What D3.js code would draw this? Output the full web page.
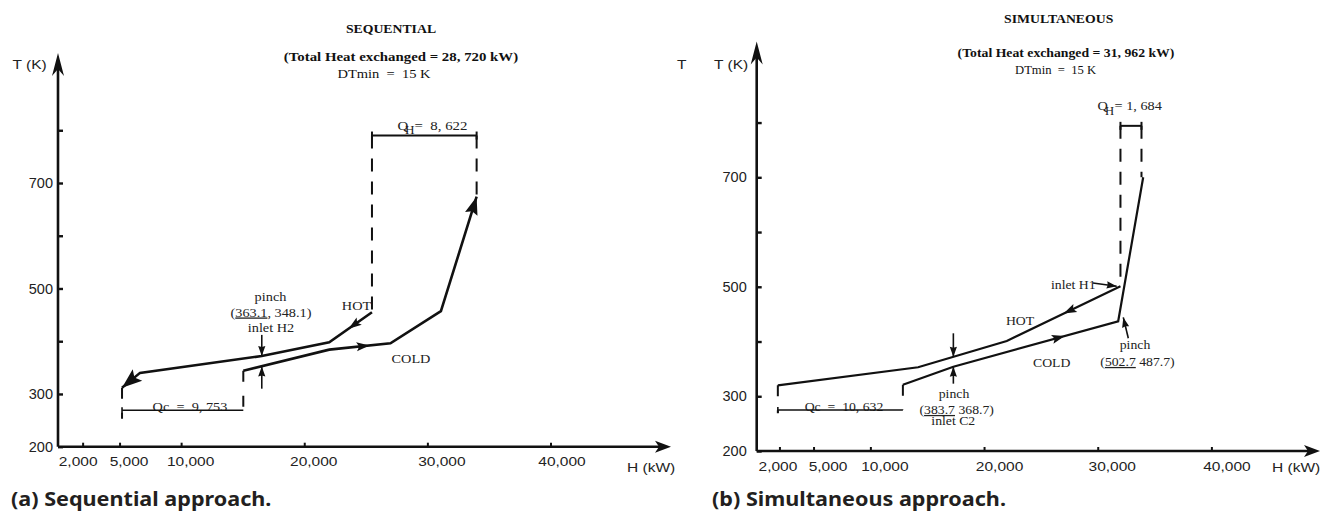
<!DOCTYPE html>
<html>
<head>
<meta charset="utf-8">
<script src="https://cdnjs.cloudflare.com/ajax/libs/d3/7.8.5/d3.min.js"></script>
<style>
  body { margin: 0; background: #fff; }
  svg text { white-space: pre; }
</style>
</head>
<body>
<svg id="chart" width="1320" height="511"></svg>
<script>
// ---------- data (H in kW, T in K) ----------
var xTicks      = [2000, 5000, 10000, 20000, 30000, 40000];
var xTickLabels = ["2,000", "5,000", "10,000", "20,000", "30,000", "40,000"];
var yTicks      = [200, 300, 400, 500, 600, 700, 800];
var yTickLabels = ["200", "300", "", "500", "", "700", ""];

// composite curves
var seqHot  = [[25500, 455], [22030, 398], [16550, 372], [6660, 340], [5200, 312]];
var seqCold = [[15050, 344], [22030, 384], [27000, 396], [31100, 457], [34000, 674]];
var simHot  = [[1860, 320], [14200, 353], [22000, 401], [32000, 501]];
var simCold = [[12860, 321], [17300, 354], [31800, 437], [34000, 700]];

// utility brackets: [H from, H to, T level]
var seqQH = [25500, 34000, 790];
var seqQc = [5200, 15050, 269];
var simQH = [32000, 33850, 794];
var simQc = [1860, 12860, 275];

// dashed drop lines: [H, T from, T to]
var seqDrops = [[25500, 790, 455], [34000, 790, 674], [5200, 312, 253], [15050, 344, 269]];
var simDrops = [[32000, 794, 501], [33850, 794, 700], [1860, 320, 269], [12860, 321, 275]];

// pinch / inlet pointers: [[H, T] start, [H, T] tip]
var seqPointers = [[[16550, 412], [16550, 372]], [[16550, 310], [16550, 352]]];
var simPointers = [[[17300, 415], [17300, 372]], [[17300, 323], [17300, 354]],
                   [[32690, 406], [32250, 444]], [[29580, 507], [31670, 501]]];

// flow arrows along the curves (H of the arrow tip)
var seqHotFlow = [23600], seqColdFlow = [25300];
var simHotFlow = [27000], simColdFlow = [27100];

// ---------- drawing ----------
var SERIF = "'Liberation Serif', 'Times New Roman', serif",
    SANS  = "'Liberation Sans', Arial, sans-serif",
    INK   = "#111",
    SX    = 1.1;

var svg = d3.select("#chart");

function txt(g, x, y, s, size, opt) {
  opt = opt || {};
  return g.append("text")
    .attr("transform", "translate(" + x + "," + y + ") scale(" + (opt.sx || SX) + ",1)")
    .attr("text-anchor", opt.anchor || "middle")
    .attr("font-family", opt.family || SERIF)
    .attr("font-size", size)
    .attr("font-weight", opt.weight || "normal")
    .attr("fill", opt.fill || "#222")
    .text(s);
}

function head(g, tip, from, len, half, notch) {
  var a = Math.atan2(tip[1] - from[1], tip[0] - from[0]),
      c = Math.cos(a), s = Math.sin(a),
      bx = tip[0] - len * c, by = tip[1] - len * s,
      nb = notch || 1,
      nx = tip[0] - len * nb * c, ny = tip[1] - len * nb * s;
  g.append("path")
    .attr("d", "M" + tip[0] + "," + tip[1] +
               "L" + (bx - half * s) + "," + (by + half * c) +
               "L" + nx + "," + ny +
               "L" + (bx + half * s) + "," + (by - half * c) + "Z")
    .attr("fill", INK);
}

function pointAt(pts, h) {
  for (var i = 0; i < pts.length - 1; i++) {
    var a = pts[i], b = pts[i + 1];
    if ((h - a[0]) * (h - b[0]) <= 0) {
      var t = (h - a[0]) / (b[0] - a[0]);
      return { p: [h, a[1] + t * (b[1] - a[1])], a: a, b: b };
    }
  }
}

function panel(cfg) {
  var g = svg.append("g");
  var x = d3.scaleLinear().domain([0, 40000]).range(cfg.xr);
  var y = d3.scaleLinear().domain([200, 700]).range(cfg.yr);
  var px = function (d) { return [x(d[0]), y(d[1])]; };
  var y0 = y(200), x0 = x(0);

  // axes lines + arrows
  g.append("line").attr("x1", x0).attr("x2", cfg.xEnd - 6).attr("y1", y0).attr("y2", y0)
    .attr("stroke", INK).attr("stroke-width", 2.4);
  head(g, [cfg.xEnd, y0], [x0, y0], 16, 6, 0.75);
  g.append("line").attr("x1", x0).attr("x2", x0).attr("y1", y0).attr("y2", cfg.yTop + 8)
    .attr("stroke", INK).attr("stroke-width", 2.6);
  head(g, [x0, cfg.yTop], [x0, y0], 23, 6, 0.7);

  // ticks
  var ax = g.append("g").attr("transform", "translate(0," + y0 + ")")
    .call(d3.axisBottom(x).tickValues(xTicks).tickSizeInner(-4).tickSizeOuter(0)
            .tickPadding(cfg.xPad).tickFormat(function (d, i) { return xTickLabels[i]; }));
  ax.select(".domain").remove();
  ax.selectAll("line").attr("stroke", INK).attr("stroke-width", 2);
  ax.selectAll("text").attr("font-family", SANS).attr("font-size", 13.5).attr("fill", "#222")
    .attr("transform", "scale(1.15,1)")
    .attr("dx", function (d, i) { return cfg.xDx[i] / 1.15; });

  var ay = g.append("g").attr("transform", "translate(" + x0 + ",0)")
    .call(d3.axisLeft(y).tickValues(yTicks).tickSizeInner(-5).tickSizeOuter(0)
            .tickPadding(cfg.yPad).tickFormat(function (d, i) { return yTickLabels[i]; }));
  ay.select(".domain").remove();
  ay.selectAll("line").attr("stroke", INK).attr("stroke-width", 2.4);
  ay.selectAll("text").attr("font-family", SANS).attr("font-size", 14.5).attr("fill", "#222");

  txt(g, cfg.tLabel[0], cfg.tLabel[1], "T (K)", 13.5, { family: SANS, anchor: "start", sx: 1.15 });
  txt(g, cfg.hLabel[0], cfg.hLabel[1], "H (kW)", 13.5, { family: SANS, anchor: "start", sx: 1.15 });

  // titles
  txt(g, cfg.titles[0][0], cfg.titles[0][1], cfg.title, 12.5, { weight: "bold", fill: "#111" });
  txt(g, cfg.titles[1][0], cfg.titles[1][1], cfg.total, cfg.totalSize, { weight: "bold", fill: "#111" });
  txt(g, cfg.titles[2][0], cfg.titles[2][1], "DTmin  =  15 K", cfg.dtSize, { fill: "#111" });

  // dashed drops
  g.selectAll(".drop").data(cfg.drops).enter().append("line")
    .attr("x1", function (d) { return x(d[0]); }).attr("x2", function (d) { return x(d[0]); })
    .attr("y1", function (d) { return y(d[1]); }).attr("y2", function (d) { return y(d[2]); })
    .attr("stroke", INK).attr("stroke-width", 2)
    .attr("stroke-dasharray", function (d, i) { return i < 2 ? "13,10" : "11,14"; });

  // QH bracket
  var qh = cfg.qh;
  g.append("line").attr("x1", x(qh[0])).attr("x2", x(qh[1])).attr("y1", y(qh[2])).attr("y2", y(qh[2]))
    .attr("stroke", INK).attr("stroke-width", 2);
  [qh[0], qh[1]].forEach(function (h) {
    g.append("line").attr("x1", x(h)).attr("x2", x(h)).attr("y1", y(qh[2]) - 4).attr("y2", y(qh[2]) + 4)
      .attr("stroke", INK).attr("stroke-width", 2);
  });
  // Qc text + bracket
  txt(g, cfg.qcText[0], cfg.qcText[1], cfg.qcLabel, cfg.annSize);
  var qc = cfg.qc;
  g.append("line").attr("x1", x(qc[0])).attr("x2", x(qc[1])).attr("y1", y(qc[2])).attr("y2", y(qc[2]))
    .attr("stroke", INK).attr("stroke-width", 1.6);
  g.append("line").attr("x1", x(qc[0])).attr("x2", x(qc[0])).attr("y1", y(qc[2]) - 3).attr("y2", y(qc[2]) + 3)
    .attr("stroke", INK).attr("stroke-width", 1.6);

  // QH label with subscript
  var ql = cfg.qhText;
  txt(g, ql[0], ql[1], "Q", cfg.annSize + 0.5, { anchor: "start" });
  txt(g, ql[0] + 7.5, ql[1] + 4.5, "H", cfg.annSize - 1, { anchor: "start" });
  txt(g, ql[0] + 17, ql[1], cfg.qhLabel, cfg.annSize + 0.5, { anchor: "start" });

  // curves
  var line = d3.line().x(function (d) { return x(d[0]); }).y(function (d) { return y(d[1]); });
  [cfg.hot, cfg.cold].forEach(function (c) {
    g.append("path").datum(c).attr("d", line).attr("fill", "none")
      .attr("stroke", INK).attr("stroke-width", cfg.curveW).attr("stroke-linejoin", "miter");
  });

  // flow arrows
  function flow(pts, hs, dir) {
    hs.forEach(function (h) {
      var q = pointAt(pts, h);
      var from = dir < 0 ? (q.a[0] > q.b[0] ? q.a : q.b) : (q.a[0] < q.b[0] ? q.a : q.b);
      head(g, px(q.p), px(from), 13, 4.5, 0.8);
    });
  }
  flow(cfg.hot, cfg.hotFlow, -1);
  flow(cfg.cold, cfg.coldFlow, 1);
  if (cfg.endArrows) {
    var n = cfg.hot.length;
    head(g, px(cfg.hot[n - 1]), px(cfg.hot[n - 2]), 20, 7.5, 0.8);
    var m = cfg.cold.length;
    head(g, px(cfg.cold[m - 1]), px(cfg.cold[m - 2]), 18, 6.5, 0.85);
  }

  // pointers
  cfg.pointers.forEach(function (d) {
    var a = px(d[0]), b = px(d[1]);
    g.append("line").attr("x1", a[0]).attr("y1", a[1]).attr("x2", b[0]).attr("y2", b[1])
      .attr("stroke", INK).attr("stroke-width", 1.6);
    head(g, b, a, 10, 3.6, 0.9);
  });

  // annotations
  cfg.notes.forEach(function (n) {
    var t = txt(g, n[0], n[1], "", cfg.annSize, { anchor: n[3] || "middle" });
    [].concat(n[2]).forEach(function (part) {
      var sp = t.append("tspan").text(typeof part === "string" ? part : part.u);
      if (typeof part !== "string") sp.style("text-decoration", "underline");
    });
  });

  txt(g, cfg.caption[0], cfg.caption[1], cfg.captionText, 20,
      { family: "'Noto Sans', 'Open Sans', sans-serif", weight: "bold", anchor: "start", sx: 1.08, fill: "#231f20" });
}

panel({
  xr: [58, 550.5], yr: [446.7, 183], xEnd: 671, yTop: 53,
  xPad: 9.5, yPad: 5, xDx: [-5, 9, 9, 9, 14, 11],
  tLabel: [12.5, 68.5], hLabel: [627, 472],
  title: "SEQUENTIAL", total: "(Total Heat exchanged = 28, 720 kW)", totalSize: 13.5, dtSize: 13.2,
  titles: [[391, 33.3], [401, 60.7], [384, 78.3]],
  hot: seqHot, cold: seqCold, hotFlow: seqHotFlow, coldFlow: seqColdFlow, endArrows: true,
  drops: seqDrops, qh: seqQH, qc: seqQc, pointers: seqPointers, curveW: 2.6, annSize: 13,
  qcText: [190, 411], qcLabel: "Qc  =  9, 753",
  qhText: [397.5, 129.5], qhLabel: "=  8, 622",
  notes: [
    [270.5, 300.5, "pinch"],
    [271, 316.5, ["(", { u: "363.1" }, ", 348.1)"]],
    [271, 331.5, "inlet H2"],
    [356.5, 310, "HOT"],
    [411, 362.5, "COLD"]
  ],
  caption: [11, 505.5], captionText: "(a) Sequential approach."
});

panel({
  xr: [756.7, 1211.4], yr: [451, 177.3], xEnd: 1320, yTop: 41.5,
  xPad: 10.3, yPad: 10, xDx: [-2, 14, 14, 15, 14, 15],
  tLabel: [714, 68.5], hLabel: [1272, 471.5],
  title: "SIMULTANEOUS", total: "(Total Heat exchanged = 31, 962 kW)", totalSize: 12.5, dtSize: 11.5,
  titles: [[1058.7, 23.3], [1066, 57.3], [1055.6, 74]],
  hot: simHot, cold: simCold, hotFlow: simHotFlow, coldFlow: simColdFlow, endArrows: false,
  drops: simDrops, qh: simQH, qc: simQc, pointers: simPointers, curveW: 2.2, annSize: 12.5,
  qcText: [844, 410.5], qcLabel: "Qc  =  10, 632",
  qhText: [1097.5, 110], qhLabel: "= 1, 684",
  notes: [
    [1051, 289.3, "inlet H1", "start"],
    [1020, 325, "HOT"],
    [1051.7, 366.7, "COLD"],
    [1135, 348.5, "pinch"],
    [1137.5, 366, ["(", { u: "502.7" }, " 487.7)"]],
    [954, 397.5, "pinch"],
    [956.7, 414, ["(", { u: "383.7" }, " 368.7)"]],
    [953.3, 424.5, "inlet C2"]
  ],
  caption: [712, 505.5], captionText: "(b) Simultaneous approach."
});

// stray label from the neighbouring figure
txt(svg, 677, 68.5, "T", 13.5, { family: SANS, anchor: "start", sx: 1.15 });
</script>
</body>
</html>
